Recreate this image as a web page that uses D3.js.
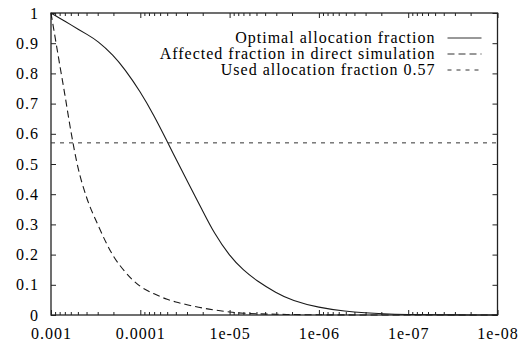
<!DOCTYPE html>
<html>
<head>
<meta charset="utf-8">
<script src="https://cdn.jsdelivr.net/npm/d3@7"></script>
<style>
  body { margin: 0; background: #fff; }
  text { font-family: 'Liberation Serif', 'Times New Roman', serif; font-size: 16px; letter-spacing: 1px; fill: #000; }
</style>
</head>
<body>
<div id="chart"></div>
<script>
// data
const sens = [1e-3, 9e-4, 8e-4, 7e-4, 6e-4, 5e-4, 4e-4, 3e-4, 2e-4, 1.5e-4, 1e-4, 7e-5, 5e-5, 4e-5, 3e-5,
  2e-5, 1.5e-5, 1e-5, 7e-6, 5e-6, 3e-6, 2e-6, 1e-6, 5e-7, 3e-7, 2e-7, 1e-7, 5e-8, 2e-8, 1e-8]
const optimal = [1.0, 0.992, 0.983, 0.973, 0.961, 0.947, 0.93, 0.908, 0.86, 0.815, 0.74, 0.66, 0.575, 0.517, 0.445,
  0.345, 0.272, 0.195, 0.148, 0.114, 0.073, 0.048, 0.024, 0.012, 0.007, 0.004, 0.0015, 0.0006, 0.0002, 0.0001]
const affected = [1.0, 0.92, 0.83, 0.73, 0.61, 0.49, 0.39, 0.30, 0.195, 0.145, 0.095, 0.07, 0.052, 0.043, 0.034,
  0.023, 0.017, 0.01, 0.006, 0.004, 0.0025, 0.0015, 0.0007, 0.0003, 0.0002, 0.0001, 0.00005, 0, 0, 0]
const usedFraction = 0.57

const xTicks = [1e-3, 1e-4, 1e-5, 1e-6, 1e-7, 1e-8]
const xTickLabels = ['0.001', '0.0001', '1e-05', '1e-06', '1e-07', '1e-08']
const yTicks = [0, 0.1, 0.2, 0.3, 0.4, 0.5, 0.6, 0.7, 0.8, 0.9, 1]
const yTickLabels = ['0', '0.1', '0.2', '0.3', '0.4', '0.5', '0.6', '0.7', '0.8', '0.9', '1']
const legendNames = ['Optimal allocation fraction', 'Affected fraction in direct simulation', 'Used allocation fraction 0.57']

const W = 523, H = 346
const margin = { top: 13, right: 25.5, bottom: 31, left: 51 }
const width = W - margin.left - margin.right
const height = H - margin.top - margin.bottom

const svg = d3.select('#chart').append('svg')
  .attr('width', W)
  .attr('height', H)

const g = svg.append('g')
  .attr('transform', `translate(${margin.left}, ${margin.top})`)

// scales
const x = d3.scaleLog().domain([1e-3, 1e-8]).range([0, width])
const y = d3.scaleLinear().domain([0, 1]).range([height, 0])

// minor log ticks 2..9
const minor = []
for (let e = -8; e < -3; e++) {
  for (let m = 2; m <= 9; m++) minor.push(m * Math.pow(10, e))
}

// axes (ticks pointing inward, gnuplot style)
g.append('g')
  .attr('transform', `translate(0, ${height})`)
  .call(d3.axisBottom(x).tickValues(xTicks).tickSize(-5).tickPadding(13)
    .tickFormat((d, i) => xTickLabels[i]))
g.append('g')
  .attr('transform', `translate(0, ${height})`)
  .call(d3.axisBottom(x).tickValues(minor).tickSize(-3).tickFormat(''))
g.append('g')
  .call(d3.axisTop(x).tickValues(xTicks).tickSize(-5).tickFormat(''))
g.append('g')
  .call(d3.axisTop(x).tickValues(minor).tickSize(-3).tickFormat(''))
g.append('g')
  .call(d3.axisLeft(y).tickValues(yTicks).tickSize(-5).tickPadding(12)
    .tickFormat((d, i) => yTickLabels[i]))
g.append('g')
  .attr('transform', `translate(${width}, 0)`)
  .call(d3.axisRight(y).tickValues(yTicks).tickSize(-5).tickFormat(''))

g.selectAll('.domain').remove()
g.selectAll('.tick line').attr('stroke', '#222')
g.selectAll('.tick text')
  .style('font-family', "'Liberation Serif', serif")
  .style('font-size', '16px')
  .attr('fill', '#000')

// frame
g.append('rect')
  .attr('width', width)
  .attr('height', height)
  .attr('fill', 'none')
  .attr('stroke', '#222')
  .attr('stroke-width', 1.3)

// curves
const series = [
  { vals: optimal, dash: null, curve: d3.curveBasis },
  { vals: affected, dash: '7,4', curve: d3.curveMonotoneX }
]
series.forEach(s => {
  const line = d3.line()
    .x(d => x(d[0]))
    .y(d => y(d[1]))
    .curve(s.curve)
  g.append('path')
    .datum(sens.map((v, i) => [v, s.vals[i]]))
    .attr('d', line)
    .attr('fill', 'none')
    .attr('stroke', '#1a1a1a')
    .attr('stroke-width', 1.1)
    .attr('stroke-dasharray', s.dash)
})

g.append('line')
  .attr('x1', x(1e-3))
  .attr('x2', x(1e-8))
  .attr('y1', y(usedFraction))
  .attr('y2', y(usedFraction))
  .attr('stroke', '#333')
  .attr('stroke-width', 1)
  .attr('stroke-dasharray', '4,5')

// legend
const dashes = [null, '7,4', '4,5']
const legend = g.append('g')
  .attr('transform', `translate(${width}, 25)`)
legendNames.forEach((name, i) => {
  legend.append('text')
    .attr('x', -62)
    .attr('y', i * 16)
    .attr('dy', '0.32em')
    .attr('text-anchor', 'end')
    .text(name)
  legend.append('line')
    .attr('x1', -50)
    .attr('x2', -16)
    .attr('y1', i * 16)
    .attr('y2', i * 16)
    .attr('stroke', '#333')
    .attr('stroke-width', 1)
    .attr('stroke-dasharray', dashes[i])
})
</script>
</body>
</html>
